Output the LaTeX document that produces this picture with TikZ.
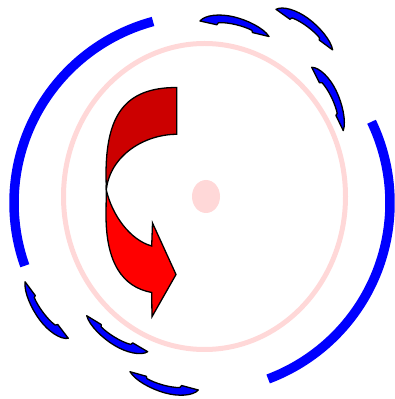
\documentclass[tikz,border=0pt]{standalone}
\definecolor{ringpink}{RGB}{255,216,216}
\definecolor{ribbondarkred}{RGB}{204,0,0}
\tikzset{
  bluearc/.style={draw=blue, line width=9.5pt},
  crescent/.style={fill=blue, draw=black, line width=1.3pt, line join=round},
  ribbondark/.style={fill=ribbondarkred, draw=black, line width=1.3pt, line join=miter},
  ribbonlight/.style={fill=red, draw=black, line width=1.3pt, line join=miter},
  ringline/.style={draw=ringpink, line width=5pt},
}
\newcommand\crescentat[4]{%
  \pgfmathsetmacro\crdx{(#3)-(#1)}%
  \pgfmathsetmacro\crdy{(#2)-(#4)}%
  \pgfmathsetmacro\crang{atan2(\crdy,\crdx)}%
  \pgfmathsetmacro\crlen{veclen(\crdx,\crdy)}%
  \begin{scope}[shift={(#1,399-#2)},rotate=\crang,scale=\crlen]
    \draw[crescent] (0,0) .. controls (0.05,0.1) and (0.25,0.165) .. (0.45,0.162)
      .. controls (0.65,0.16) and (0.9,0.1) .. (1,0)
      -- (0.76,0.003) -- (0.745,0.032)
      .. controls (0.62,0.066) and (0.4,0.074) .. (0.26,0.034)
      -- (0.245,0) -- cycle;
  \end{scope}}
\begin{document}
\begin{tikzpicture}[x=1pt,y=1pt]
\useasboundingbox (0,0) rectangle (394,399);
% pink ring and dot
\draw[ringline] (204.5,202.5) ellipse [x radius=141, y radius=153];
\fill[ringpink] (206,202.5) ellipse [x radius=14, y radius=16.5];
% big blue arcs
\draw[bluearc] (202,196) ++(105.1:188) arc[start angle=105.1, end angle=199.5, radius=188];
\draw[bluearc] (202,196) ++(25.6:188) arc[start angle=25.6, end angle=-69.4, radius=188];
% small blue crescents
\crescentat{200}{21}{269}{36.5}
\crescentat{276}{9.3}{332.7}{50}
\crescentat{311.7}{67.3}{343.3}{130.7}
\crescentat{68.3}{338.3}{25}{281.7}
\crescentat{147.7}{351.7}{86.7}{315.7}
\crescentat{198.3}{390}{130}{371.7}
% red ribbon arrow (image coordinates)
\begin{scope}[shift={(0,399)},yscale=-1]
  \draw[ribbondark] (176.7,87.5) -- (176.7,134.3)
    .. controls (145,134.3) and (110,155) .. (106.3,190)
    -- (106,175) .. controls (106,115) and (125,87.5) .. (176.7,87.5) -- cycle;
  \draw[ribbonlight] (106.3,190) -- (106,215)
    .. controls (106,262) and (122,287) .. (151.7,292.5)
    -- (152,316.7) -- (176,274.5) -- (152.5,223) -- (151.7,246)
    .. controls (130,240) and (112,215) .. (106.3,190) -- cycle;
\end{scope}
\end{tikzpicture}
\end{document}
